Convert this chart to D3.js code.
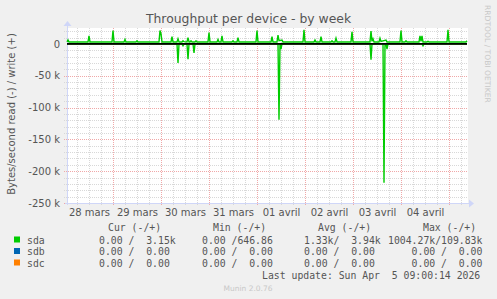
<!DOCTYPE html>
<html>
<head>
<meta charset="utf-8">
<script src="https://cdn.jsdelivr.net/npm/d3@7"></script>
<style>
  body { margin: 0; background: #f0f0f0; }
  svg { display: block; }
  text { font-family: "DejaVu Sans", sans-serif; fill: #555; }
  .mono { font-family: "DejaVu Sans Mono", monospace; white-space: pre; }
</style>
</head>
<body>
<svg id="chart"></svg>
<script>
// Chart values (k bytes / second)
let timeStart = "2026-03-28 01:00";
let timeEnd = "2026-04-05 09:00";

// write (+) for sda
let sdaWrite = [
    ["03-28 01:00", 3.1], ["03-28 01:30", 6], ["03-28 02:00", 3.1],
    ["03-28 11:30", 3.1], ["03-28 12:00", 12.5], ["03-28 12:30", 3.1],
    ["03-28 23:30", 3.1], ["03-29 00:00", 21], ["03-29 00:30", 3.1],
    ["03-29 05:30", 3.1], ["03-29 06:00", 7], ["03-29 06:30", 3.1],
    ["03-29 11:30", 3.1], ["03-29 12:00", 5], ["03-29 12:30", 3.1],
    ["03-29 23:00", 3.1], ["03-29 23:30", 21], ["03-30 00:00", 16], ["03-30 00:30", 3.1],
    ["03-30 05:00", 3.1], ["03-30 05:30", 11.5], ["03-30 06:00", 3.1],
    ["03-30 08:00", 3.1], ["03-30 08:30", 8], ["03-30 09:00", 3.1],
    ["03-30 10:30", 3.1], ["03-30 11:00", 5], ["03-30 11:30", 3.5],
    ["03-30 13:00", 3.1], ["03-30 13:30", 10], ["03-30 14:00", 3.1],
    ["03-30 14:30", 3.1], ["03-30 15:00", 5], ["03-30 15:30", 3.1],
    ["03-30 17:00", 3.1], ["03-30 17:30", 5], ["03-30 18:00", 3.1],
    ["03-30 23:30", 3.1], ["03-31 00:00", 18], ["03-31 00:30", 3.1],
    ["03-31 04:00", 3.1], ["03-31 04:30", 7], ["03-31 05:00", 3.1],
    ["03-31 06:00", 3.1], ["03-31 06:30", 12.5], ["03-31 07:00", 3.1],
    ["03-31 11:30", 3.1], ["03-31 12:00", 5], ["03-31 12:30", 3.1],
    ["03-31 14:00", 3.1], ["03-31 14:30", 10], ["03-31 15:00", 3.1],
    ["03-31 23:30", 3.1], ["04-01 00:00", 21], ["04-01 00:30", 3.1],
    ["04-01 07:00", 3.1], ["04-01 07:30", 11.5], ["04-01 08:00", 3.1],
    ["04-01 10:00", 3.1], ["04-01 10:30", 14], ["04-01 11:00", 5],
    ["04-01 12:30", 6], ["04-01 13:00", 3.1],
    ["04-01 23:00", 3.1], ["04-01 23:30", 22], ["04-02 00:00", 3.1],
    ["04-02 04:30", 3.1], ["04-02 05:00", 6], ["04-02 05:30", 3.1],
    ["04-02 07:30", 3.1], ["04-02 08:00", 11.5], ["04-02 08:30", 3.1],
    ["04-02 13:00", 3.1], ["04-02 13:30", 5], ["04-02 14:00", 3.1],
    ["04-02 15:00", 3.1], ["04-02 15:30", 9], ["04-02 16:00", 3.1],
    ["04-02 23:00", 3.1], ["04-02 23:30", 19], ["04-03 00:00", 3.1],
    ["04-03 08:30", 3.1], ["04-03 09:00", 20], ["04-03 09:30", 4],
    ["04-03 10:00", 8], ["04-03 10:30", 3.1],
    ["04-03 13:00", 3.1], ["04-03 13:30", 9], ["04-03 14:00", 4],
    ["04-03 16:30", 6], ["04-03 17:00", 3.1],
    ["04-03 23:30", 3.1], ["04-04 00:00", 21], ["04-04 00:30", 3.1],
    ["04-04 02:00", 3.1], ["04-04 02:30", 5], ["04-04 03:00", 3.1],
    ["04-04 09:00", 3.1], ["04-04 09:30", 12.5], ["04-04 10:00", 4],
    ["04-04 10:30", 12.5], ["04-04 11:00", 3.1],
    ["04-04 13:00", 3.1], ["04-04 13:30", 4], ["04-04 14:00", 3.1],
    ["04-04 23:00", 3.1], ["04-04 23:30", 22], ["04-05 00:00", 3.1],
    ["04-05 08:30", 3.1], ["04-05 09:00", 5]
];

// read (-) for sda
let sdaRead = [
    ["03-28 01:00", 0],
    ["03-30 08:00", 0], ["03-30 08:30", 30], ["03-30 09:00", 0],
    ["03-30 10:30", 0], ["03-30 11:00", 3], ["03-30 11:30", 0],
    ["03-30 13:00", 0], ["03-30 13:30", 24], ["03-30 14:00", 0],
    ["03-30 16:00", 0], ["03-30 16:30", 14], ["03-30 17:00", 0],
    ["04-01 10:30", 0], ["04-01 11:00", 119], ["04-01 11:30", 0],
    ["04-01 12:00", 8], ["04-01 12:30", 0],
    ["04-03 08:30", 0], ["04-03 09:00", 25], ["04-03 09:30", 0],
    ["04-03 15:00", 0], ["04-03 15:30", 218], ["04-03 16:00", 0],
    ["04-03 16:30", 0], ["04-03 17:00", 8], ["04-03 17:30", 0],
    ["04-04 10:30", 0], ["04-04 11:00", 3], ["04-04 11:30", 0],
    ["04-05 09:00", 0]
];

// sdb and sdc stay at zero
let sdbSeries = [["03-28 01:00", 0], ["04-05 09:00", 0]];
let sdcSeries = [["03-28 01:00", 0], ["04-05 09:00", 0]];

let yMajorTicks = [0, -50, -100, -150, -200, -250];
let xLabels = ["28 mars", "29 mars", "30 mars", "31 mars", "01 avril", "02 avril", "03 avril", "04 avril"];

let legendNames = ["sda", "sdb", "sdc"];
let legendColors = ["#00cc00", "#0066b3", "#ff8000"];
let legendHeaders = ["Cur (-/+)", "Min (-/+)", "Avg (-/+)", "Max (-/+)"];
let legendCur = ["0.00 /  3.15k", "0.00 /  0.00", "0.00 /  0.00"];
let legendMin = ["0.00 /646.86", "0.00 /  0.00", "0.00 /  0.00"];
let legendAvg = ["1.33k/  3.94k", "0.00 /  0.00", "0.00 /  0.00"];
let legendMax = ["1004.27k/109.83k", "    0.00 /  0.00", "    0.00 /  0.00"];

// Size of the whole picture
let width = 497;
let height = 299;

let svg = d3.select('#chart')
    .attr('width', width)
    .attr('height', height);

svg.append('rect')
    .attr('width', width)
    .attr('height', height)
    .attr('fill', '#f0f0f0');

let parseTime = d3.timeParse('%Y-%m-%d %H:%M');
let parsePoint = d => ({ t: parseTime('2026-' + d[0]), v: d[1] });

// Plot area
let plotLeft = 67, plotRight = 467, plotTop = 28, plotBottom = 203;

let x = d3.scaleTime()
    .domain([parseTime(timeStart), parseTime(timeEnd)])
    .range([plotLeft, plotRight]);

let y = d3.scaleLinear()
    .domain([-250, 25])
    .range([plotBottom, plotTop]);

// canvas
svg.append('rect')
    .attr('x', plotLeft)
    .attr('y', plotTop)
    .attr('width', plotRight - plotLeft + 1)
    .attr('height', plotBottom - plotTop)
    .attr('fill', '#ffffff');

let grid = svg.append('g');
let px = v => Math.round(v) + 0.5;

// minor grid, every 10 k and every 6 hours
d3.range(-240, 25, 10).filter(v => v % 50 !== 0).forEach(v => {
    grid.append('line')
        .attr('x1', plotLeft - 3).attr('x2', plotRight)
        .attr('y1', px(y(v))).attr('y2', px(y(v)))
        .attr('stroke', '#d8d8d8')
        .attr('stroke-dasharray', '1,1');
});
d3.timeHour.every(6).range(x.domain()[0], x.domain()[1])
    .filter(t => t.getHours() !== 0)
    .forEach(t => {
        grid.append('line')
            .attr('x1', px(x(t))).attr('x2', px(x(t)))
            .attr('y1', plotTop).attr('y2', plotBottom + 2)
            .attr('stroke', '#d8d8d8')
            .attr('stroke-dasharray', '1,1');
    });

// major grid, every 50 k and every midnight
yMajorTicks.filter(v => v !== 0).forEach(v => {
    grid.append('line')
        .attr('x1', plotLeft - 3).attr('x2', plotRight)
        .attr('y1', px(y(v))).attr('y2', px(y(v)))
        .attr('stroke', '#f0a8a8')
        .attr('stroke-dasharray', '1,1');
});
d3.timeDay.range(x.domain()[0], x.domain()[1]).forEach(t => {
    grid.append('line')
        .attr('x1', px(x(t))).attr('x2', px(x(t)))
        .attr('y1', plotTop).attr('y2', plotBottom + 3)
        .attr('stroke', '#f0a8a8')
        .attr('stroke-dasharray', '1,1');
});

// axes lines + arrows
let axisColor = '#cfd6f8';
svg.append('line')
    .attr('x1', plotLeft - 2).attr('x2', plotRight + 3)
    .attr('y1', plotBottom + 0.5).attr('y2', plotBottom + 0.5)
    .attr('stroke', axisColor);
svg.append('line')
    .attr('x1', plotLeft + 0.5).attr('x2', plotLeft + 0.5)
    .attr('y1', plotBottom + 2).attr('y2', plotTop - 4)
    .attr('stroke', axisColor);
svg.append('path')
    .attr('d', `M${plotRight + 2},${plotBottom - 3.5}L${plotRight + 7},${plotBottom + 0.5}L${plotRight + 2},${plotBottom + 4.5}Z`)
    .attr('fill', axisColor);
svg.append('path')
    .attr('d', `M${plotLeft - 3.5},${plotTop - 2}L${plotLeft + 0.5},${plotTop - 7}L${plotLeft + 4.5},${plotTop - 2}Z`)
    .attr('fill', axisColor);

// series
let line = d3.line()
    .x(d => x(d.t))
    .y(d => y(d.v));

let series = [
    { data: sdbSeries.map(parsePoint), color: legendColors[1], sign: 1 },
    { data: sdcSeries.map(parsePoint), color: legendColors[2], sign: 1 },
    { data: sdaRead.map(parsePoint), color: legendColors[0], sign: -1 },
    { data: sdaWrite.map(parsePoint), color: legendColors[0], sign: 1 }
];

svg.append('g').selectAll('path')
    .data(series)
    .enter()
    .append('path')
    .attr('d', s => line(s.data.map(p => ({ t: p.t, v: p.v * s.sign }))))
    .attr('fill', 'none')
    .attr('stroke', s => s.color)
    .attr('stroke-width', 1.4);

// zero rule
svg.append('line')
    .attr('x1', plotLeft).attr('x2', plotRight)
    .attr('y1', y(0)).attr('y2', y(0))
    .attr('stroke', '#000')
    .attr('stroke-width', 1.6);

// y labels
let yAxis = d3.axisLeft(y)
    .tickValues(yMajorTicks)
    .tickSize(0)
    .tickPadding(0)
    .tickFormat(v => v === 0 ? '0' : v + ' k');
let yAxisG = svg.append('g')
    .attr('transform', `translate(${plotLeft - 7},0)`)
    .call(yAxis);
yAxisG.select('.domain').remove();
yAxisG.selectAll('text')
    .attr('font-family', 'DejaVu Sans, sans-serif')
    .attr('font-size', 10)
    .attr('fill', '#555');

// x labels at noon of each day
let noons = d3.timeDay.range(d3.timeDay.floor(x.domain()[0]), x.domain()[1])
    .map(t => d3.timeHour.offset(t, 12))
    .filter(t => t < x.domain()[1])
    .slice(0, xLabels.length);
let xAxis = d3.axisBottom(x)
    .tickValues(noons)
    .tickSize(0)
    .tickPadding(0)
    .tickFormat((d, i) => xLabels[i]);
let xAxisG = svg.append('g')
    .attr('transform', `translate(0,${plotBottom + 6})`)
    .call(xAxis);
xAxisG.select('.domain').remove();
xAxisG.selectAll('text')
    .attr('font-family', 'DejaVu Sans, sans-serif')
    .attr('font-size', 10)
    .attr('fill', '#555');

// title
svg.append('text')
    .attr('x', 248.5)
    .attr('y', 23)
    .attr('text-anchor', 'middle')
    .attr('font-size', 12.4)
    .text('Throughput per device - by week');

// y axis title
svg.append('text')
    .attr('transform', 'translate(15,114) rotate(-90)')
    .attr('text-anchor', 'middle')
    .attr('font-size', 10)
    .text('Bytes/second read (-) / write (+)');

// rrdtool watermark
svg.append('text')
    .attr('transform', 'translate(485,5) rotate(90)')
    .attr('font-size', 7.6)
    .style('fill', '#c8c8c8')
    .text('RRDTOOL / TOBI OETIKER');

// legend
let legend = svg.append('g');
let monoSize = 9.8;
let headerX = [108, 213, 318, 423];
legend.selectAll('text.head')
    .data(legendHeaders)
    .enter()
    .append('text')
    .attr('class', 'mono head')
    .attr('x', (d, i) => headerX[i])
    .attr('y', 230.5)
    .attr('font-size', monoSize)
    .text(d => d);

let rowY = [243.5, 255, 266.5];
legendNames.forEach((name, i) => {
    legend.append('rect')
        .attr('x', 14).attr('y', rowY[i] - 7)
        .attr('width', 6).attr('height', 6)
        .attr('fill', legendColors[i]);
    let cols = [[27, name], [99, legendCur[i]], [202, legendMin[i]], [304, legendAvg[i]], [388, legendMax[i]]];
    cols.forEach(c => {
        legend.append('text')
            .attr('class', 'mono')
            .attr('x', c[0])
            .attr('y', rowY[i])
            .attr('font-size', monoSize)
            .text(c[1]);
    });
});

legend.append('text')
    .attr('class', 'mono')
    .attr('x', 262)
    .attr('y', 278.5)
    .attr('font-size', monoSize)
    .text('Last update: Sun Apr  5 09:00:14 2026');

svg.append('text')
    .attr('x', 248)
    .attr('y', 291)
    .attr('text-anchor', 'middle')
    .attr('font-size', 7.5)
    .style('fill', '#c8c8c8')
    .text('Munin 2.0.76');
</script>
</body>
</html>
